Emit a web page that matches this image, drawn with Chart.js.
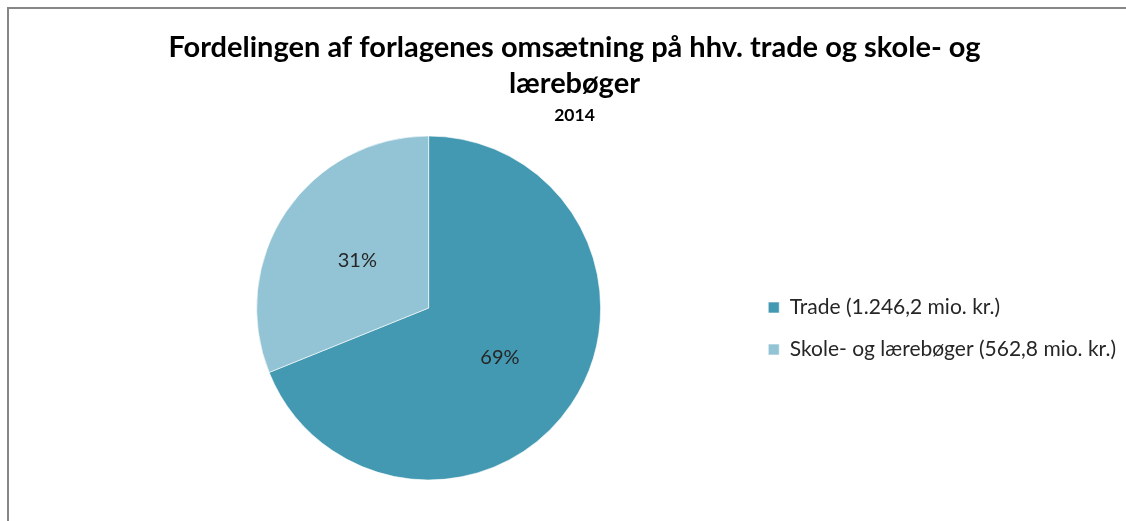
<!DOCTYPE html>
<html>
<head>
<meta charset="utf-8">
<script src="https://cdn.jsdelivr.net/npm/chart.js@4/dist/chart.umd.min.js"></script>
<style>
  html, body { margin: 0; padding: 0; background: #ffffff; overflow: hidden; }
  #frame { position: absolute; left: 7px; top: 7px; width: 2000px; height: 2000px;
           border-left: 2px solid #868686; border-top: 2px solid #868686; }
  #chart { position: absolute; left: 0; top: 0; }
</style>
</head>
<body>
<div id="frame"></div>
<canvas id="chart" width="1126" height="521"></canvas>
<script>
// ---- data ----
const titleLines = ['Fordelingen af forlagenes omsætning på hhv. trade og skole- og', 'lærebøger'];
const subtitleText = '2014';
const categories = ['Trade (1.246,2 mio. kr.)', 'Skole- og lærebøger (562,8 mio. kr.)'];
const values = [1246.2, 562.8];
const sliceColors = ['#4399B1', '#93C4D5'];

const FONT = 'Lato, "Open Sans", "Noto Sans", sans-serif';

// Title block drawn centred over the whole chart frame (not over the plot area)
const titleBlock = {
  id: 'titleBlock',
  afterDraw(chart, args, opts) {
    const ctx = chart.ctx;
    ctx.save();
    ctx.textAlign = 'center';
    ctx.textBaseline = 'alphabetic';
    ctx.fillStyle = '#000000';
    ctx.font = 'bold 29px ' + FONT;
    titleLines.forEach((t, i) => ctx.fillText(t, opts.x, opts.baselines[i]));
    ctx.font = 'bold 17.5px ' + FONT;
    ctx.fillText(subtitleText, opts.x, opts.subBaseline);
    ctx.restore();
  }
};

// Percentage labels at the centre point of each slice
const pctLabels = {
  id: 'pctLabels',
  afterDatasetsDraw(chart) {
    const ctx = chart.ctx;
    const meta = chart.getDatasetMeta(0);
    const data = chart.data.datasets[0].data;
    const total = data.reduce((a, b) => a + b, 0);
    ctx.save();
    ctx.font = '20px ' + FONT;
    ctx.fillStyle = '#262626';
    ctx.textAlign = 'center';
    ctx.textBaseline = 'middle';
    meta.data.forEach((arc, i) => {
      const p = arc.getCenterPoint();
      const pct = Math.round(data[i] / total * 100) + '%';
      ctx.fillText(pct, p.x, p.y + 1);
    });
    ctx.restore();
  }
};

new Chart(document.getElementById('chart'), {
  type: 'pie',
  data: {
    labels: categories,
    datasets: [{
      data: values,
      backgroundColor: sliceColors,
      borderColor: 'rgba(255,255,255,0.6)',
      borderWidth: 1,
      radius: 172
    }]
  },
  options: {
    responsive: false,
    animation: false,
    events: [],
    layout: { padding: { left: 110, right: 0, top: 134, bottom: 39 } },
    plugins: {
      title: { display: false },
      subtitle: { display: false },
      titleBlock: { x: 574.5, baselines: [57, 92.5], subBaseline: 121 },
      legend: {
        display: true,
        position: 'right',
        fullSize: false,
        align: 'center',
        title: { display: true, text: '', font: { size: 11, lineHeight: 1 }, padding: { top: 30, bottom: 0 } },
        labels: {
          boxWidth: 11,
          boxHeight: 11,
          padding: 21,
          color: '#262626',
          font: { family: FONT, size: 21 }
        }
      },
      tooltip: { enabled: false }
    }
  },
  plugins: [pctLabels, titleBlock]
});
</script>
</body>
</html>
